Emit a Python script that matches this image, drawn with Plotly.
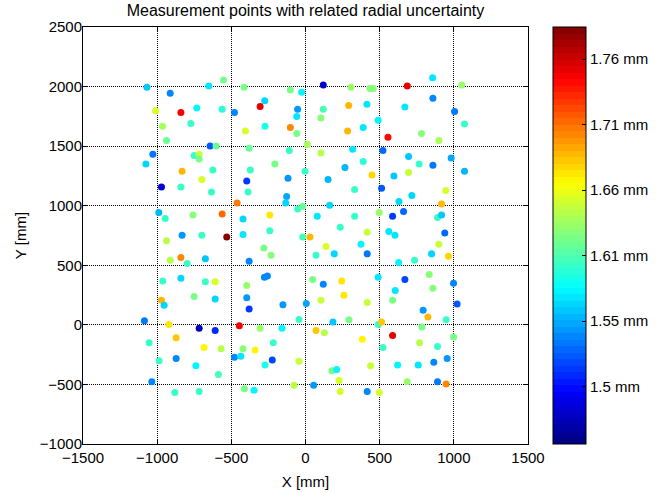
import plotly.graph_objs as go

x_top_left = [-1069, -652, -912, -1011, -840, -733, -562, -964, -773, -937, -643, -603, -1029, -751,
              -717, -717, -1076, -832, -625, -699, -971, -840, -634, -989, -946, -758, -562]
y_top_left = [1994, 2005, 1944, 1798, 1782, 1820, 1810, 1667, 1689, 1547, 1502, 1502, 1432, 1421,
              1432, 1393, 1351, 1289, 1300, 1220, 1158, 1158, 1116, 943, 893, 923, 931]
u_top_left = [1.56, 1.57, 1.54, 1.65, 1.75, 1.575, 1.595, 1.635, 1.6, 1.615, 1.525, 1.615, 1.535, 1.6,
              1.645, 1.62, 1.565, 1.69, 1.6, 1.65, 1.485, 1.6, 1.598, 1.555, 1.6, 1.625, 1.715]

x_top_mid = [-553, -414, -102, -26, 120, -275, -306, -479, -53, 120, -59, 104, -405, -273, -102, -59,
             -380, -109, 12, 104, -207, -372, -3, -396, -118, 152, -387, -127, -133, -461, -53, -19,
             163, -421, -241, 79, -241, 234]
y_top_mid = [2055, 1994, 1971, 1952, 2013, 1882, 1832, 1782, 1810, 1810, 1748, 1737, 1627, 1667, 1656,
             1606, 1482, 1463, 1513, 1443, 1351, 1300, 1289, 1208, 1231, 1220, 1116, 1077, 1023, 1023,
             973, 993, 1004, 889, 923, 912, 789, 820]
u_top_mid = [1.62, 1.62, 1.62, 1.575, 1.475, 1.565, 1.755, 1.54, 1.545, 1.605, 1.57, 1.625, 1.65, 1.59,
             1.705, 1.62, 1.615, 1.6, 1.635, 1.64, 1.62, 1.6, 1.598, 1.515, 1.545, 1.555, 1.6, 1.55,
             1.565, 1.71, 1.598, 1.615, 1.565, 1.565, 1.67, 1.57, 1.6, 1.598]

x_top_right = [857, 306, 434, 457, 686, 1054, 291, 414, 670, 859, 1005, 1072, 490, 284, 389, 556, 782,
               899, 318, 522, 389, 266, 695, 766, 859, 982, 1072, 448, 596, 695, 331, 513, 717, 946,
               630, 917, 331, 497, 587, 661, 890, 917, 416, 562, 939]
y_top_right = [2075, 1994, 1983, 1983, 2005, 2013, 1841, 1851, 1829, 1902, 1790, 1686, 1717, 1627, 1656,
               1575, 1606, 1547, 1474, 1463, 1371, 1320, 1413, 1351, 1340, 1401, 1289, 1258, 1250, 1278,
               1136, 1147, 1085, 1127, 1035, 1015, 912, 943, 912, 951, 901, 923, 778, 784, 772]
u_top_right = [1.57, 1.63, 1.625, 1.625, 1.755, 1.63, 1.69, 1.57, 1.57, 1.54, 1.535, 1.6, 1.575, 1.69,
               1.57, 1.745, 1.625, 1.635, 1.57, 1.53, 1.595, 1.555, 1.56, 1.598, 1.535, 1.55, 1.555,
               1.675, 1.56, 1.645, 1.6, 1.525, 1.565, 1.65, 1.565, 1.69, 1.6, 1.63, 1.515, 1.53, 1.6,
               1.56, 1.645, 1.57, 1.53]

x_bot_left = [-937, -832, -699, -912, -840, -798, -675, -962, -840, -675, -609, -971, -953, -751, -609,
              -1086, -921, -717, -609, -1054, -872, -684, -569, -987, -872, -739, -587, -1036, -881, -717]
y_bot_left = [705, 752, 752, 543, 565, 515, 554, 369, 392, 361, 361, 207, 165, 238, 216,
              34, 3, -28, -47, -151, -109, -190, -201, -302, -282, -344, -416, -478, -567, -559]
u_bot_left = [1.64, 1.545, 1.6, 1.64, 1.705, 1.6, 1.56, 1.6, 1.565, 1.598, 1.65, 1.69, 1.565, 1.62, 1.565,
              1.535, 1.67, 1.47, 1.51, 1.598, 1.685, 1.665, 1.64, 1.598, 1.54, 1.575, 1.605, 1.54, 1.6, 1.6]

x_bot_mid = [-531, -421, -19, 30, -281, -232, -380, 71, 138, 194, -277, -257, -396, -396, -380, -152, 5,
             -44, 48, 120, 244, 104, 185, -446, -306, -158, 71, 127, -421, -340, -217, -479, -436,
             -224, -273, -44, 178, 210, 226, 234, -77, 55, -412, -347]
y_bot_mid = [738, 758, 738, 738, 646, 585, 534, 585, 658, 596, 400, 411, 331, 227, 134, 168, 180,
             45, 381, 341, 369, 207, 23, -8, -28, -28, -47, -67, -201, -210, -151, -271, -263,
             -294, -336, -305, -386, -374, -466, -559, -506, -506, -537, -548]
u_bot_mid = [1.79, 1.57, 1.605, 1.69, 1.62, 1.625, 1.54, 1.598, 1.65, 1.565, 1.54, 1.54, 1.63, 1.545,
             1.515, 1.545, 1.55, 1.598, 1.62, 1.54, 1.67, 1.645, 1.56, 1.75, 1.63, 1.575, 1.685, 1.64,
             1.625, 1.665, 1.598, 1.54, 1.57, 1.52, 1.59, 1.645, 1.62, 1.575, 1.65, 1.65, 1.64, 1.545,
             1.62, 1.575]

x_bot_right = [603, 374, 416, 628, 735, 850, 899, 964, 259, 490, 670, 834, 998, 1022, 605, 859, 416,
               587, 793, 825, 948, 293, 490, 513, 785, 998, 383, 587, 522, 769, 890, 955, 865, 760,
               621, 439, 686, 890, 948, 416, 497]
y_bot_right = [752, 677, 596, 523, 543, 596, 677, 576, 249, 400, 381, 423, 350, 176, 289, 308, 188,
               207, 123, 65, 42, 42, 3, 23, -17, -101, -120, -89, -190, -151, -181, -282, -313, -336,
               -336, -344, -478, -478, -497, -559, -567]
u_bot_right = [1.57, 1.575, 1.535, 1.575, 1.6, 1.565, 1.645, 1.675, 1.67, 1.57, 1.52, 1.625, 1.54, 1.525,
               1.57, 1.625, 1.645, 1.62, 1.545, 1.69, 1.598, 1.62, 1.598, 1.685, 1.62, 1.62, 1.665,
               1.755, 1.598, 1.64, 1.6, 1.545, 1.54, 1.57, 1.575, 1.645, 1.63, 1.535, 1.705, 1.54, 1.65]

x_mm = x_top_left + x_top_mid + x_top_right + x_bot_left + x_bot_mid + x_bot_right
y_mm = y_top_left + y_top_mid + y_top_right + y_bot_left + y_bot_mid + y_bot_right
unc_mm = u_top_left + u_top_mid + u_top_right + u_bot_left + u_bot_mid + u_bot_right

cbar_vals = [1.5, 1.553, 1.606, 1.659, 1.712, 1.765]
cbar_text = ['1.5 mm', '1.55 mm', '1.61 mm', '1.66 mm', '1.71 mm', '1.76 mm']

x_ticks = [-1500, -1000, -500, 0, 500, 1000, 1500]
y_ticks = [-1000, -500, 0, 500, 1000, 1500, 2000, 2500]


# matlab jet(64), as stepped colour bands
def jet_rgb(t):
    def ch(v):
        return max(0.0, min(1.0, 1.5 - abs(4 * t - v)))
    r, g, b = ch(3), ch(2), ch(1)
    return 'rgb(%d,%d,%d)' % (round(r * 255), round(g * 255), round(b * 255))


n_col = 64
jet = []
for i in range(n_col):
    c = jet_rgb((i + 0.5) / n_col)
    jet.append([i / n_col, c])
    jet.append([(i + 1) / n_col, c])

font_all = 'Arial, Liberation Sans, sans-serif'

trace = go.Scatter(x=x_mm, y=y_mm, mode='markers',
                   marker=dict(size=7, color=unc_mm, colorscale=jet,
                               cmin=1.4535, cmax=1.791, line=dict(width=0),
                               colorbar=dict(x=1.056, xanchor='left', xpad=0, ypad=0,
                                             y=0.5, yanchor='middle', len=1.0, lenmode='fraction',
                                             thickness=33,
                                             outlinecolor='black', outlinewidth=1,
                                             tickvals=cbar_vals, ticktext=cbar_text,
                                             ticks='inside', ticklen=4, tickcolor='black',
                                             tickfont=dict(size=15, color='black', family=font_all))),
                   showlegend=False)

axis_style = dict(showgrid=True, gridcolor='black', griddash='1px,1px', gridwidth=1,
                  showline=True, linecolor='black', linewidth=1, mirror='ticks',
                  ticks='inside', ticklen=5, tickcolor='black',
                  zeroline=False, automargin=False,
                  tickfont=dict(size=15, color='black', family=font_all))

fig = go.Figure([trace]).update_layout(
    width=668, height=493,
    margin=dict(l=83, r=140, t=27, b=49, autoexpand=False),
    title=dict(text='Measurement points with related radial uncertainty',
               x=0.5, xref='paper', y=0.978, yanchor='middle',
               font=dict(size=16, color='black', family=font_all)),
    xaxis=dict(range=[-1500, 1500], tickvals=x_ticks,
               title=dict(text='X [mm]', standoff=11,
                          font=dict(size=15, color='black', family=font_all)),
               **axis_style),
    yaxis=dict(range=[-1000, 2500], tickvals=y_ticks, ticklabelstandoff=-3,
               title=dict(text='Y [mm]', standoff=9,
                          font=dict(size=15, color='black', family=font_all)),
               **axis_style),
    plot_bgcolor='white',
    paper_bgcolor='white',
)

# page body has an 8px default margin, drop it so the chart sits at the window's corner
fig.write_html('out.html', config={'displayModeBar': False},
               post_script="document.body.style.margin='0px';")
